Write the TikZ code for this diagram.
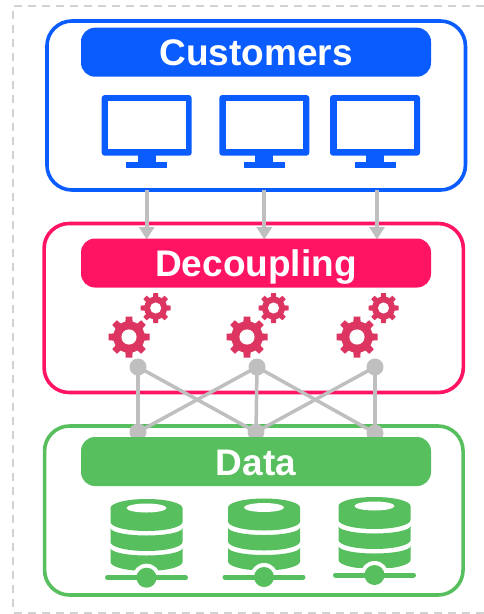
\documentclass[tikz,border=0pt]{standalone}
\usepackage{fontspec}
\usetikzlibrary{arrows.meta}
\setmainfont{Liberation Sans}
\definecolor{cblue}{HTML}{0A5CFF}
\definecolor{cpink}{HTML}{FF1464}
\definecolor{cgreen}{HTML}{58BF5E}
\definecolor{cgear}{HTML}{DC3562}
\definecolor{cgrey}{HTML}{BFBFBF}
\definecolor{cdash}{HTML}{D2D2D2}
\tikzset{
  panel/.style={draw=#1,line width=3.6pt,rounded corners=25pt,fill=white,inner sep=0pt},
  header/.style={fill=#1,rounded corners=14pt,minimum width=350pt,minimum height=49pt,text=white,
    font=\fontsize{37}{38}\selectfont\bfseries,inner sep=0pt,text height=27pt,text depth=0pt},
  link/.style={draw=cgrey,line width=3.5pt},
  flow/.style={draw=cgrey,line width=3.7pt,-{Triangle[width=15pt,length=12.5pt]}},
  dotn/.style={circle,fill=cgrey,minimum size=17pt,inner sep=0pt},
  pics/monitor/.style={code={
    \fill[cblue,rounded corners=3pt] (-45,-29) rectangle (45,31.7);
    \fill[white] (-38.4,-23) rectangle (39,25);
    \fill[cblue] (-9,31) rectangle (9,38.5);
    \fill[cblue] (-20.5,38) rectangle (20.5,44.3);
  }},
  pics/gear/.style={code={
    \foreach \a in {0,45,...,315}{
      \fill[cgear,rotate=\a] (-#1*0.22,0) -- (-#1*0.16,#1*1.0) -- (#1*0.16,#1*1.0) -- (#1*0.22,0) -- cycle;
    }
    \fill[cgear] (0,0) circle[radius=#1*0.77];
    \fill[white] (0,0) circle[radius=#1*0.37];
  }},
  pics/disk/.style={code={
    \fill[cgreen] (-36,0) arc[start angle=180,end angle=360,x radius=36,y radius=9]
      -- (36,14) arc[start angle=0,end angle=180,x radius=36,y radius=9] -- cycle;
    \fill[white] (0,0) ellipse[x radius=20,y radius=4.5];
    \fill[cgreen] (-36,20) arc[start angle=180,end angle=0,x radius=36,y radius=7.5]
      -- (36,34) arc[start angle=0,end angle=180,x radius=36,y radius=9] -- cycle;
    \fill[cgreen] (-36,40) arc[start angle=180,end angle=0,x radius=36,y radius=7.5]
      -- (36,54) arc[start angle=0,end angle=180,x radius=36,y radius=9] -- cycle;
  }},
  pics/lan/.style={code={
    \fill[white] (0,0) circle[radius=14];
    \fill[white] (-40,-7) rectangle (40,0);
    \draw[cgreen,line width=5pt,line cap=round] (-39,0) -- (39,0);
    \fill[cgreen] (0,0) circle[radius=10];
  }},
}
\begin{document}
\begin{tikzpicture}[x=1pt,y=-1pt]
\useasboundingbox (0,0) rectangle (484,614);
\fill[white] (0,0) rectangle (484,614);
\draw[cdash,line width=2pt,dash pattern=on 8pt off 6pt] (484,6) -- (13.3,6) -- (13.3,613) -- (484,613);
% panels
\node[panel=cblue,minimum width=418.5pt,minimum height=169pt] (custpanel) at (256.2,105.5) {};
\node[panel=cpink,minimum width=419.3pt,minimum height=169pt] (decpanel) at (253.7,308) {};
\node[panel=cgreen,minimum width=418.5pt,minimum height=169pt] (datapanel) at (253.8,510.5) {};
% connectors
\coordinate (a1) at (146.7,190); \coordinate (a2) at (264.3,190); \coordinate (a3) at (377,190);
\coordinate (b1) at (146.7,239.5); \coordinate (b2) at (264.3,239.5); \coordinate (b3) at (377,239.5);
\foreach \i in {1,2,3}{\draw[flow] (a\i) -- (b\i);}
\node[dotn] (t1) at (138,367) {};
\node[dotn] (t2) at (257,367) {};
\node[dotn] (t3) at (375,367) {};
\node[dotn] (u1) at (138,432) {};
\node[dotn] (u2) at (256,432) {};
\node[dotn] (u3) at (375,433) {};
\foreach \a/\b in {t1/u1,t1/u2,t2/u1,t2/u2,t2/u3,t3/u2,t3/u3}{\draw[link] (\a.center) -- (\b.center);}
% headers
\node[header=cblue] (cust) at (256,52.2) {Customers};
\node[header=cpink] (dec) at (256,263) {Decoupling};
\node[header=cgreen] (data) at (256,461.5) {Data};
% icons
\pic at (146.7,124) {monitor};
\pic at (264.3,124) {monitor};
\pic at (375,124) {monitor};
\foreach \x/\y/\xx/\yy in {129/337/155.7/308,247/337/273.5/308,357/337/383.5/308}{
  \pic at (\x,\y) {gear=20.5};
  \pic at (\xx,\yy) {gear=15};
}
\pic at (146.5,508) {disk};
\pic at (264,507.5) {disk};
\pic at (374.5,506) {disk};
\pic at (146.5,577.7) {lan};
\pic at (264,577) {lan};
\pic at (374.5,575) {lan};
\end{tikzpicture}
\end{document}
